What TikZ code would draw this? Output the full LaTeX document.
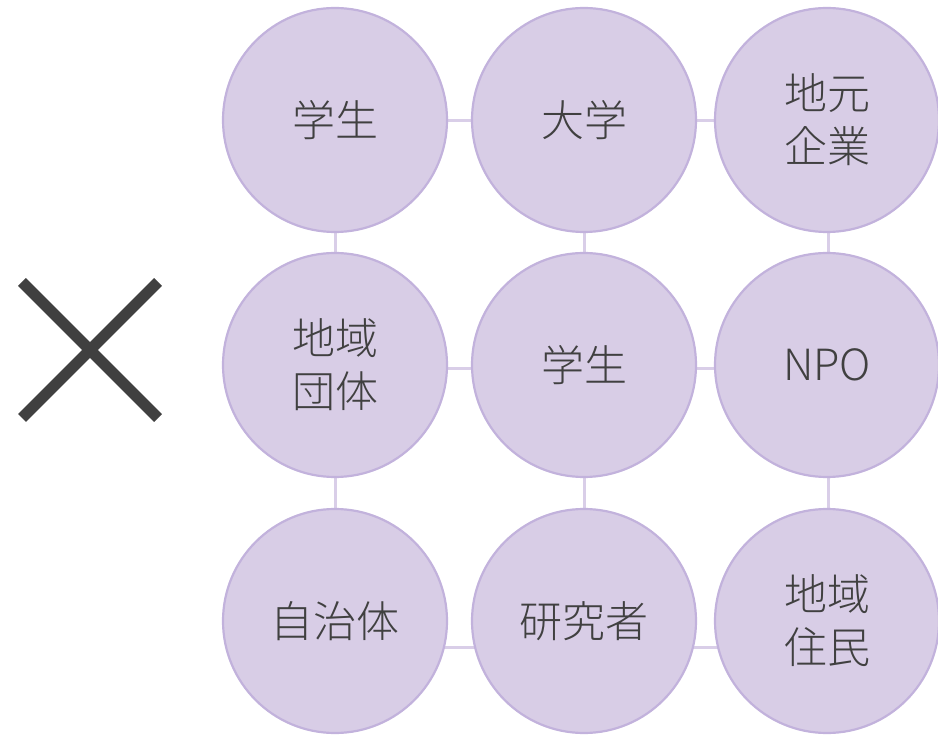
\documentclass[tikz,border=0pt]{standalone}
\usepackage{fontspec}
\setmainfont{Noto Sans CJK JP}[UprightFont=* Light]
\definecolor{cfill}{HTML}{D8CDE6}
\definecolor{cborder}{HTML}{C2B2DC}
\definecolor{cline}{HTML}{D9CEE8}
\definecolor{ctext}{HTML}{404040}
\begin{document}
\begin{tikzpicture}[x=1pt,y=-1pt,
  bub/.style={circle,minimum size=224pt,inner sep=0pt,fill=cfill,draw=cborder,line width=2.2pt,
    text=ctext,font=\fontsize{43}{53}\selectfont,align=center},
  link/.style={draw=cline,line width=3pt}]
\useasboundingbox (0,0) rectangle (938,735);
% connectors (behind)
\coordinate (h1a) at (335,121); \coordinate (h1b) at (828,121);
\coordinate (h2a) at (335,369); \coordinate (h2b) at (828,369);
\coordinate (h3a) at (335,647); \coordinate (h3b) at (828,647);
\coordinate (v1a) at (335,120); \coordinate (v1b) at (335,620);
\coordinate (v2a) at (584,120); \coordinate (v2b) at (584,620);
\coordinate (v3a) at (828,120); \coordinate (v3b) at (828,620);
\draw[link] (h1a) -- (h1b);
\draw[link] (h2a) -- (h2b);
\draw[link] (h3a) -- (h3b);
\draw[link] (v1a) -- (v1b);
\draw[link] (v2a) -- (v2b);
\draw[link] (v3a) -- (v3b);
% circles
\node[bub] (a1) at (335,120) {学生};
\node[bub] (a2) at (584,120) {大学};
\node[bub] (a3) at (827,120) {地元\\企業};
\node[bub] (b1) at (335,365) {地域\\団体};
\node[bub] (b2) at (584,365) {学生};
\node[bub] (b3) at (827,365) {NPO};
\node[bub] (c1) at (335,621) {自治体};
\node[bub] (c2) at (584,621) {研究者};
\node[bub] (c3) at (827,621) {地域\\住民};
% cross
\coordinate (x1) at (22,282); \coordinate (x2) at (158,418);
\coordinate (x3) at (158,282); \coordinate (x4) at (22,418);
\draw[ctext,line width=11pt] (x1) -- (x2);
\draw[ctext,line width=11pt] (x3) -- (x4);
\end{tikzpicture}
\end{document}
